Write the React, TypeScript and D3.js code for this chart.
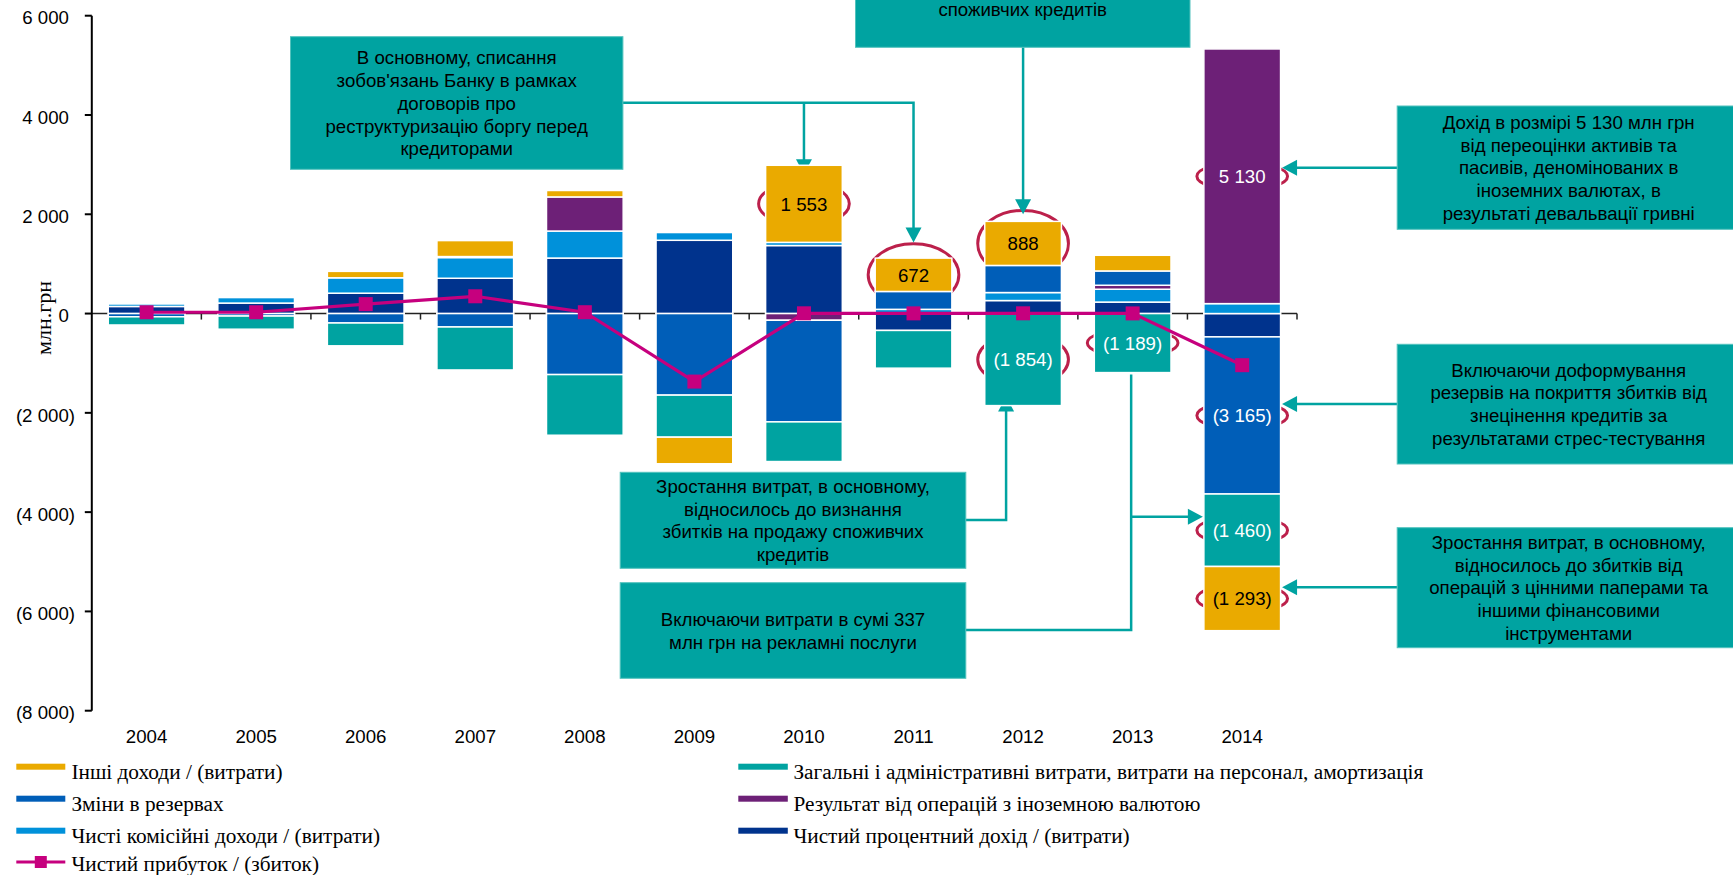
import React from "react";
import * as d3 from "d3";

// роки і складові чистого прибутку, млн грн
const years = ["2004", "2005", "2006", "2007", "2008", "2009", "2010", "2011", "2012", "2013", "2014"];
const netInterest = [143, 211, 410, 711, 1118, 1476, 1370, -340, 262, 231, -470];
const netCommission = [50, 111, 310, 417, 544, 156, 64, 85, 161, 259, 200];
const fxResult = [0, 0, 0, 20, 687, 0, -135, 0, 0, 80, 5130];
const reserveChange = [-65, -50, -190, -270, -1229, -1643, -2047, 360, 546, 288, -3165];
const adminCosts = [-165, -265, -460, -866, -1222, -847, -799, -760, -1854, -1189, -1460];
const otherIncome = [0, 0, 130, 322, 130, -536, 1553, 672, 888, 316, -1293];
const netProfit = [26, 26, 190, 348, 27, -1370, 5, 4, 5, 3, -1040];

const yTicks = [6000, 4000, 2000, 0, -2000, -4000, -6000, -8000];

const keys = ["interest", "commission", "fx", "reserves", "admin", "other"];
const colors: Record<string, string> = {
  interest: "#00338D",
  commission: "#0091DA",
  fx: "#6D2077",
  reserves: "#005EB8",
  admin: "#00A3A1",
  other: "#EAAA00",
};

// підписи значень, обведені червоним
const labelled = [
  { year: "2010", key: "other" },
  { year: "2011", key: "other" },
  { year: "2012", key: "other" },
  { year: "2012", key: "admin" },
  { year: "2013", key: "admin" },
  { year: "2014", key: "fx" },
  { year: "2014", key: "reserves" },
  { year: "2014", key: "admin" },
  { year: "2014", key: "other" },
];
const ellipseRy = [22, 31, 33, 26, 14, 14, 14, 14, 14];

const legendLeft = [
  { key: "other", label: "Інші доходи / (витрати)" },
  { key: "reserves", label: "Зміни в резервах" },
  { key: "commission", label: "Чисті комісійні доходи / (витрати)" },
];
const legendRight = [
  { key: "admin", label: "Загальні і адміністративні витрати, витрати на персонал, амортизація" },
  { key: "fx", label: "Результат від операцій з іноземною валютою" },
  { key: "interest", label: "Чистий процентний дохід / (витрати)" },
];
const lineLabel = "Чистий прибуток / (збиток)";

const notes = {
  writeOff: ["В основному, списання", "зобов'язань Банку в рамках", "договорів про", "реструктуризацію боргу перед", "кредиторами"],
  topCut: ["споживчих кредитів"],
  sale: ["Зростання витрат, в основному,", "відносилось до визнання", "збитків на продажу споживчих", "кредитів"],
  ads: ["Включаючи витрати в сумі 337", "млн грн на рекламні послуги"],
  fx: ["Дохід в розмірі 5 130 млн грн", "від переоцінки активів та", "пасивів, деномінованих в", "іноземних валютах, в", "результаті девальвації гривні"],
  provisions: ["Включаючи доформування", "резервів на покриття збитків від", "знецінення кредитів за", "результатами стрес-тестування"],
  securities: ["Зростання витрат, в основному,", "відносилось до збитків від", "операцій з цінними паперами та", "іншими фінансовими", "інструментами"],
};

const SANS = "'Liberation Sans', Arial, sans-serif";
const SERIF = "'Liberation Serif', 'Times New Roman', 'DejaVu Serif', serif";
const TEAL = "#00A3A1";
const MAGENTA = "#C6007E";
const RED = "#BC204B";

const fmt = (v: number) => {
  const s = d3.format(",")(Math.abs(v)).replace(/,/g, " ");
  return v < 0 ? `(${s})` : s;
};

const Box = ({ x, y, w, h, lines }: { x: number; y: number; w: number; h: number; lines: string[] }) => {
  const lh = 22.8;
  const cy = y + h / 2 - ((lines.length - 1) * lh) / 2;
  return (
    <g>
      <rect x={x} y={y} width={w} height={h} fill={TEAL} stroke="#52c2bd" strokeWidth={1} />
      {lines.map((l, i) => (
        <text key={i} x={x + w / 2} y={cy + i * lh} dy="0.36em" textAnchor="middle" fontFamily={SANS} fontSize={18.67} fill="#000">
          {l}
        </text>
      ))}
    </g>
  );
};

const arrow = (tx: number, ty: number, dir: "down" | "up" | "left" | "right") => {
  const L = 15, W = 8;
  if (dir === "down") return `M${tx},${ty}L${tx - W},${ty - L}L${tx + W},${ty - L}Z`;
  if (dir === "up") return `M${tx},${ty}L${tx - W},${ty + L}L${tx + W},${ty + L}Z`;
  if (dir === "left") return `M${tx},${ty}L${tx + L},${ty - W}L${tx + L},${ty + W}Z`;
  return `M${tx},${ty}L${tx - L},${ty - W}L${tx - L},${ty + W}Z`;
};

const App = () => {
  const width = 1733;
  const height = 875;

  const x = d3.scaleBand().domain(years).range([91.8, 1297]).paddingInner(0.3).paddingOuter(0.15);
  const y = d3.scaleLinear().domain([-8000, 6000]).range([710.7, 15.7]);
  const bw = x.bandwidth();
  const step = x.step();
  const bx = (yr: string) => (x(yr) as number) + bw / 2;

  const rows = years.map((yr, i) => ({
    year: yr,
    interest: netInterest[i],
    commission: netCommission[i],
    fx: fxResult[i],
    reserves: reserveChange[i],
    admin: adminCosts[i],
    other: otherIncome[i],
  }));
  const series = d3.stack<any>().keys(keys).offset(d3.stackOffsetDiverging)(rows);

  const seg = (yr: string, key: string) => {
    const s = series.find((d) => d.key === key)!;
    return s[years.indexOf(yr)];
  };
  const stackTop = (yr: string) => d3.max(series, (s) => s[years.indexOf(yr)][1]) as number;
  const stackBottom = (yr: string) => d3.min(series, (s) => s[years.indexOf(yr)][0]) as number;

  const line = d3
    .line<number>()
    .x((_, i) => bx(years[i]))
    .y((d) => y(d));

  const y0 = y(0);
  const axisX = x.range()[0];
  const axisEnd = x.range()[1];
  const boundaries = d3.range(1, years.length + 1).map((i) => axisX + i * step);

  // з'єднувальні лінії від приміток
  const t2010 = y(stackTop("2010"));
  const t2011 = y(stackTop("2011"));
  const t2012 = y(stackTop("2012"));
  const b2012 = y(stackBottom("2012"));
  const b2013 = y(stackBottom("2013"));
  const l2014 = x("2014") as number;
  const r2014 = l2014 + bw;

  return (
    <div style={{ position: "absolute", left: 0, top: 0 }}>
      <svg width={width} height={height} style={{ display: "block", background: "#fff" }}>
        {/* вісь X */}
        <line x1={axisX} x2={axisEnd} y1={y0} y2={y0} stroke="#222" strokeWidth={1.5} />
        {boundaries.map((b, i) => (
          <line key={i} x1={b} x2={b} y1={y0} y2={y0 + 6} stroke="#222" strokeWidth={1.5} />
        ))}

        {/* червоні позначки навколо значень */}
        {labelled.map((l, i) => {
          const d = seg(l.year, l.key);
          return (
            <ellipse
              key={i}
              cx={bx(l.year)}
              cy={y((d[0] + d[1]) / 2)}
              rx={bw / 2 + 7}
              ry={ellipseRy[i]}
              fill="none"
              stroke={RED}
              strokeWidth={3}
            />
          );
        })}

        {/* лінії-виноски */}
        <g stroke={TEAL} strokeWidth={2.5} fill="none">
          <path d={`M622.9,102.7H${bx("2011")}V${t2011 - 20}`} />
          <path d={`M${bx("2010")},102.7V${t2010}`} />
          <path d={`M${bx("2012")},47.3V${t2012 - 18}`} />
          <path d={`M965.8,520H${bx("2012") - 17}V${b2012}`} />
          <path d={`M966,630H${bx("2013") - 1.5}V${b2013 + 2}`} />
          <path d={`M${bx("2013") - 1.5},516.7H${l2014 - 10}`} />
          <path d={`M1397,167.7H${r2014 + 10}`} />
          <path d={`M1397,404H${r2014 + 10}`} />
          <path d={`M1397,587.3H${r2014 + 10}`} />
        </g>
        <g fill={TEAL}>
          <path d={arrow(bx("2010"), t2010 + 9, "down")} />
          <path d={arrow(bx("2011"), t2011 - 15.5, "down")} />
          <path d={arrow(bx("2012"), t2012 - 7, "down")} />
          <path d={arrow(bx("2012") - 17, b2012 - 9, "up")} />
          <path d={arrow(l2014 - 1, 516.7, "right")} />
          <path d={arrow(r2014 + 1.5, 167.7, "left")} />
          <path d={arrow(r2014 + 1.5, 404, "left")} />
          <path d={arrow(r2014 + 1.5, 587.3, "left")} />
        </g>

        {/* стовпці */}
        {series.map((s) => (
          <g key={s.key} fill={colors[s.key]}>
            {s.map((d, i) =>
              d[1] !== d[0] ? (
                <rect
                  key={i}
                  x={x(years[i])}
                  y={y(d[1])}
                  width={bw}
                  height={y(d[0]) - y(d[1])}
                  stroke="#fff"
                  strokeWidth={1.5}
                />
              ) : null
            )}
          </g>
        ))}

        {/* значення */}
        {labelled.map((l, i) => {
          const d = seg(l.year, l.key);
          const val = d[0] < 0 ? -(d[1] - d[0]) : d[1] - d[0];
          return (
            <text
              key={i}
              x={bx(l.year)}
              y={y((d[0] + d[1]) / 2)}
              dy="0.36em"
              textAnchor="middle"
              fontFamily={SANS}
              fontSize={18.67}
              fill={l.key === "other" ? "#000" : "#fff"}
            >
              {fmt(val)}
            </text>
          );
        })}

        {/* вісь Y */}
        <line x1={axisX} x2={axisX} y1={y(6000)} y2={y(-8000)} stroke="#000" strokeWidth={2} />
        {yTicks.map((t) => (
          <g key={t}>
            <line x1={axisX - 7} x2={axisX} y1={y(t)} y2={y(t)} stroke="#000" strokeWidth={2} />
            <text
              x={t >= 0 ? 69 : 75}
              y={y(t) + 2}
              dy="0.36em"
              textAnchor="end"
              fontFamily={SANS}
              fontSize={18.67}
              fill="#000"
            >
              {fmt(t)}
            </text>
          </g>
        ))}
        <text
          transform={`translate(51,318) rotate(-90)`}
          textAnchor="middle"
          fontFamily={SERIF}
          fontSize={22}
          fill="#000"
        >
          млн.грн
        </text>

        {/* підписи років */}
        {years.map((yr) => (
          <text key={yr} x={bx(yr)} y={742.5} textAnchor="middle" fontFamily={SANS} fontSize={18.67} fill="#000">
            {yr}
          </text>
        ))}

        {/* чистий прибуток */}
        <path d={line(netProfit) || ""} fill="none" stroke={MAGENTA} strokeWidth={3.2} />
        {netProfit.map((v, i) => (
          <rect key={i} x={bx(years[i]) - 7} y={y(v) - 7} width={14} height={14} fill={MAGENTA} />
        ))}

        {/* примітки */}
        <Box x={290.5} y={36.7} w={332.4} h={132.6} lines={notes.writeOff} />
        <rect x={855.5} y={-5} width={334.5} height={52.3} fill={TEAL} stroke="#52c2bd" strokeWidth={1} />
        <text x={1022.7} y={9} dy="0.36em" textAnchor="middle" fontFamily={SANS} fontSize={18.67} fill="#000">
          {notes.topCut[0]}
        </text>
        <Box x={620.2} y={472.3} w={345.6} h={96} lines={notes.sale} />
        <Box x={620.2} y={582.7} w={345.6} h={95.6} lines={notes.ads} />
        <Box x={1397.2} y={106} w={343} h={123.3} lines={notes.fx} />
        <Box x={1397.2} y={344.3} w={343} h={119.7} lines={notes.provisions} />
        <Box x={1397.2} y={527.7} w={343} h={120} lines={notes.securities} />

        {/* легенда */}
        {legendLeft.map((l, i) => (
          <g key={l.key} transform={`translate(0,${766.7 + i * 32})`}>
            <rect x={16.3} y={-3} width={49} height={6} fill={colors[l.key]} />
            <text x={71.4} y={12.3} fontFamily={SERIF} fontSize={21.3} fill="#000">
              {l.label}
            </text>
          </g>
        ))}
        <g transform={`translate(0,${862})`}>
          <line x1={16.3} x2={65.3} y1={0} y2={0} stroke={MAGENTA} strokeWidth={3.2} />
          <rect x={34.8} y={-6} width={12} height={12} fill={MAGENTA} />
          <text x={71.4} y={8.5} fontFamily={SERIF} fontSize={21.3} fill="#000">
            {lineLabel}
          </text>
        </g>
        {legendRight.map((l, i) => (
          <g key={l.key} transform={`translate(0,${766.7 + i * 32})`}>
            <rect x={738.3} y={-3} width={49.5} height={6} fill={colors[l.key]} />
            <text x={793.4} y={12.3} fontFamily={SERIF} fontSize={21.3} fill="#000">
              {l.label}
            </text>
          </g>
        ))}
      </svg>
    </div>
  );
};

export default App;
